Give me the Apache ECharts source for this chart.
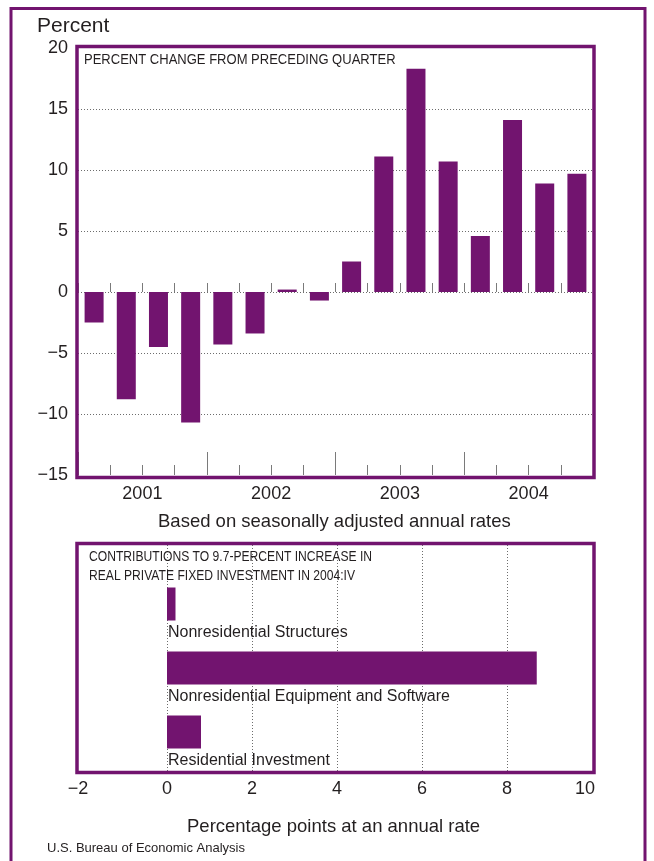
<!DOCTYPE html>
<html>
<head>
<meta charset="utf-8">
<script src="https://cdn.jsdelivr.net/npm/echarts@6/dist/echarts.min.js"></script>
<style>
html,body{margin:0;padding:0;background:#fff;}
#chart{width:654px;height:861px;}
</style>
</head>
<body>
<div id="chart"></div>
<script>
// ---- Data ----
const quarters = ['2001 Q1','2001 Q2','2001 Q3','2001 Q4','2002 Q1','2002 Q2','2002 Q3','2002 Q4',
                  '2003 Q1','2003 Q2','2003 Q3','2003 Q4','2004 Q1','2004 Q2','2004 Q3','2004 Q4'];
const years = ['2001','2002','2003','2004'];
const pctChange = [-2.5,-8.8,-4.5,-10.7,-4.3,-3.4,0.2,-0.7,2.5,11.1,18.3,10.7,4.6,14.1,8.9,9.7];
const yMin = -15, yMax = 20, yStep = 5;

const contribCategories = ['Nonresidential Structures','Nonresidential Equipment and Software','Residential Investment'];
const contribValues = [0.2, 8.7, 0.8];
const xMin = -2, xMax = 10, xStep = 2;

// ---- Style ----
const PURPLE = '#72146f';
const TEXT = '#231f20';
const FONT = '"Liberation Sans", Arial, Helvetica, sans-serif';
const GRID_LINE = {color:'#6d6d6d', width:1, type:[1,2]};
const TICK = {color:'#7a7a7a', width:1};
const minus = v => (v < 0 ? '\u2212' + Math.abs(v) : String(v));

const chart = echarts.init(document.getElementById('chart'), null, {renderer:'canvas'});

const hiddenLine = {show:true, onZero:true, lineStyle:{opacity:0}};

const option = {
  animation:false,
  backgroundColor:'#ffffff',
  textStyle:{fontFamily:FONT, color:TEXT},
  grid:[
    {left:78, top:48, width:515, height:427},
    {left:82, top:545, width:510, height:228},
    {left:82, top:572, width:510, height:192}
  ],
  xAxis:[
    // quarter ticks on zero line
    {gridIndex:0, type:'category', data:quarters, position:'bottom',
     axisLine:hiddenLine,
     axisTick:{show:true, inside:true, length:9, interval:0, lineStyle:TICK},
     axisLabel:{show:false}, splitLine:{show:false}},
    // year ticks on zero line
    {gridIndex:0, type:'category', data:years, position:'bottom',
     axisLine:hiddenLine,
     axisTick:{show:true, inside:true, length:21, interval:0, lineStyle:TICK},
     axisLabel:{show:false}, splitLine:{show:false}},
    // quarter ticks at bottom
    {gridIndex:0, type:'category', data:quarters, position:'bottom',
     axisLine:{show:false, onZero:false},
     axisTick:{show:true, inside:true, length:10, interval:0, lineStyle:TICK},
     axisLabel:{show:false}, splitLine:{show:false}},
    // year ticks + labels at bottom
    {gridIndex:0, type:'category', data:years, position:'bottom',
     axisLine:{show:false, onZero:false},
     axisTick:{show:true, inside:true, length:23, interval:0, lineStyle:TICK},
     axisLabel:{show:true, fontSize:18, color:TEXT, fontFamily:FONT, margin:10, interval:0},
     splitLine:{show:false}},
    // bottom frame axis with labels and gridlines
    {gridIndex:1, type:'value', min:xMin, max:xMax, interval:xStep, position:'bottom',
     axisLine:{show:false, onZero:false}, axisTick:{show:false},
     axisLabel:{show:true, fontSize:18, color:TEXT, fontFamily:FONT, margin:7,
       formatter: v => v === xMin ? '{l|' + minus(v) + '}' : (v === xMax ? '{r|' + minus(v) + '}' : minus(v)),
       rich:{
         l:{fontSize:18, fontFamily:FONT, color:TEXT, padding:[0,8,0,0]},
         r:{fontSize:18, fontFamily:FONT, color:TEXT, padding:[0,14,0,0]}
       }},
     splitLine:{show:true, showMinLine:false, showMaxLine:false, lineStyle:GRID_LINE}},
    // bottom bars axis
    {gridIndex:2, type:'value', min:xMin, max:xMax, interval:xStep, show:false,
     splitLine:{show:false}}
  ],
  yAxis:[
    {gridIndex:0, type:'value', min:yMin, max:yMax, interval:yStep,
     axisLine:{show:false}, axisTick:{show:false},
     axisLabel:{show:true, fontSize:18, color:TEXT, fontFamily:FONT, margin:10, formatter:minus},
     splitLine:{show:true, showMinLine:false, showMaxLine:false, lineStyle:GRID_LINE}},
    {gridIndex:1, type:'value', min:0, max:1, show:false, splitLine:{show:false}},
    {gridIndex:2, type:'category', data:contribCategories, inverse:true, show:false}
  ],
  series:[
    {type:'bar', xAxisIndex:0, yAxisIndex:0, data:pctChange, barWidth:19,
     itemStyle:{color:PURPLE}, z:1},
    {type:'bar', xAxisIndex:5, yAxisIndex:2, data:contribValues, barWidth:33,
     itemStyle:{color:PURPLE},
     label:{show:true, position:[1,'100%'], align:'left', verticalAlign:'top', offset:[0,4],
            formatter:'{b}', fontSize:16, color:TEXT, fontFamily:FONT}}
  ],
  graphic:[
    // outer frame
    {type:'polyline', z:100, silent:true,
     shape:{points:[[11,870],[11,8.5],[645,8.5],[645,870]]},
     style:{stroke:PURPLE, lineWidth:3, fill:null}},
    // top chart frame
    {type:'rect', z:100, silent:true, shape:{x:77, y:46.5, width:517, height:431},
     style:{stroke:PURPLE, lineWidth:3.5, fill:null}},
    // bottom chart frame
    {type:'rect', z:100, silent:true, shape:{x:77, y:543.5, width:517, height:229},
     style:{stroke:PURPLE, lineWidth:3.5, fill:null}},
    {type:'text', z:101, left:37, top:16,
     style:{text:'Percent', fontSize:21, fontFamily:FONT, fill:TEXT}},
    {type:'text', z:101, x:84, y:53, scaleX:0.93,
     style:{text:'PERCENT CHANGE FROM PRECEDING QUARTER', fontSize:14, fontFamily:FONT, fill:TEXT}},
    {type:'text', z:101, left:158, top:512,
     style:{text:'Based on seasonally adjusted annual rates', fontSize:18.5, fontFamily:FONT, fill:TEXT}},
    {type:'text', z:101, x:89, y:550, scaleX:0.865,
     style:{text:'CONTRIBUTIONS TO 9.7-PERCENT INCREASE IN', fontSize:14, fontFamily:FONT, fill:TEXT}},
    {type:'text', z:101, x:89, y:569, scaleX:0.865,
     style:{text:'REAL PRIVATE FIXED INVESTMENT IN 2004:IV', fontSize:14, fontFamily:FONT, fill:TEXT}},
    {type:'text', z:101, left:187, top:817,
     style:{text:'Percentage points at an annual rate', fontSize:18.5, fontFamily:FONT, fill:TEXT}},
    {type:'text', z:101, left:47, top:842,
     style:{text:'U.S. Bureau of Economic Analysis', fontSize:13, fontFamily:FONT, fill:TEXT}}
  ]
};
chart.setOption(option);
</script>
</body>
</html>
